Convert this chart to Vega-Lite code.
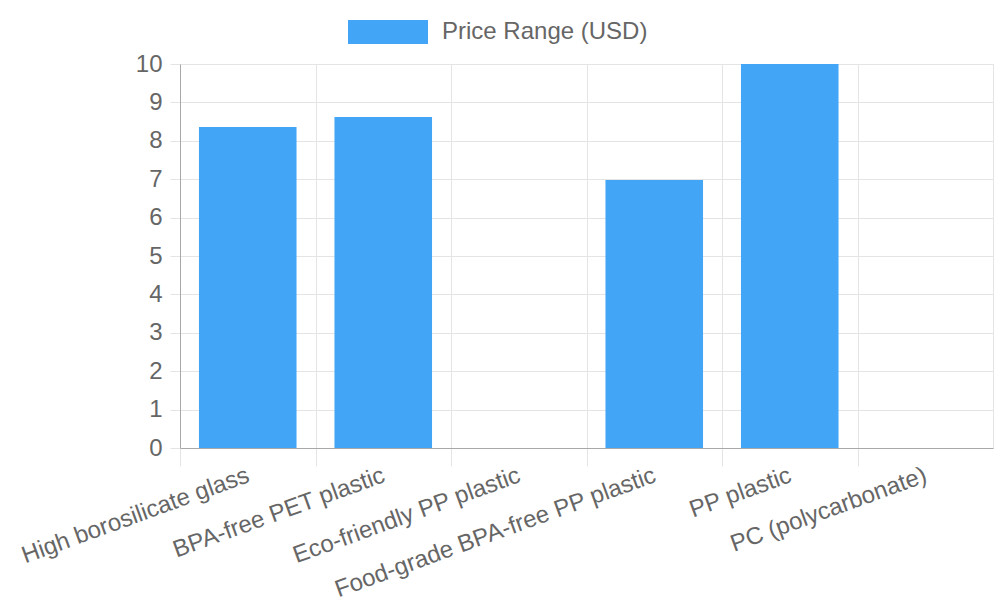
{
  "$schema": "https://vega.github.io/schema/vega-lite/v6.json",
  "width": 813,
  "height": 384,
  "autosize": "none",
  "padding": {"left": 180, "top": 64, "right": 7, "bottom": 152},
  "data": {
    "values": [
      {"material": "High borosilicate glass", "price": 8.36},
      {"material": "BPA-free PET plastic", "price": 8.62},
      {"material": "Eco-friendly PP plastic", "price": 0},
      {"material": "Food-grade BPA-free PP plastic", "price": 6.98},
      {"material": "PP plastic", "price": 10},
      {"material": "PC (polycarbonate)", "price": 0}
    ]
  },
  "mark": {"type": "bar"},
  "encoding": {
    "x": {
      "field": "material",
      "type": "nominal",
      "sort": null,
      "scale": {"paddingInner": 0.28, "paddingOuter": 0.14},
      "axis": {
        "title": null,
        "bandPosition": 0,
        "tickOffset": -18.97,
        "labelOffset": 15,
        "tickExtra": false,
        "grid": true,
        "gridColor": "#e4e4e4",
        "tickColor": "#e4e4e4",
        "tickSize": 18,
        "domainColor": "#a8a8a8",
        "labelAngle": -20,
        "labelAlign": "right",
        "labelBaseline": "top",
        "labelFontSize": 24,
        "labelColor": "#666666",
        "labelFont": "Liberation Sans",
        "labelPadding": -3,
        "labelLimit": 0,
        "labelOverlap": false
      }
    },
    "y": {
      "field": "price",
      "type": "quantitative",
      "scale": {"domain": [0, 10], "nice": false},
      "axis": {
        "title": null,
        "values": [0, 1, 2, 3, 4, 5, 6, 7, 8, 9, 10],
        "gridColor": "#e4e4e4",
        "tickColor": "#e4e4e4",
        "tickSize": 10,
        "domainColor": "#a8a8a8",
        "labelFontSize": 24,
        "labelColor": "#666666",
        "labelFont": "Liberation Sans",
        "labelPadding": 8
      }
    },
    "color": {
      "datum": "Price Range (USD)",
      "type": "nominal",
      "scale": {"range": ["#42a5f5"]},
      "legend": {
        "title": null,
        "orient": "none",
        "legendX": 168,
        "legendY": -72,
        "symbolType": "M-1,-0.3L1,-0.3L1,0.3L-1,0.3Z",
        "symbolSize": 6400,
        "symbolStrokeWidth": 0,
        "symbolOpacity": 1,
        "labelFontSize": 24,
        "labelColor": "#666666",
        "labelFont": "Liberation Sans",
        "labelOffset": 14,
        "labelLimit": 0
      }
    }
  },
  "config": {
    "view": {"stroke": "#e4e4e4"},
    "font": "Liberation Sans"
  }
}
